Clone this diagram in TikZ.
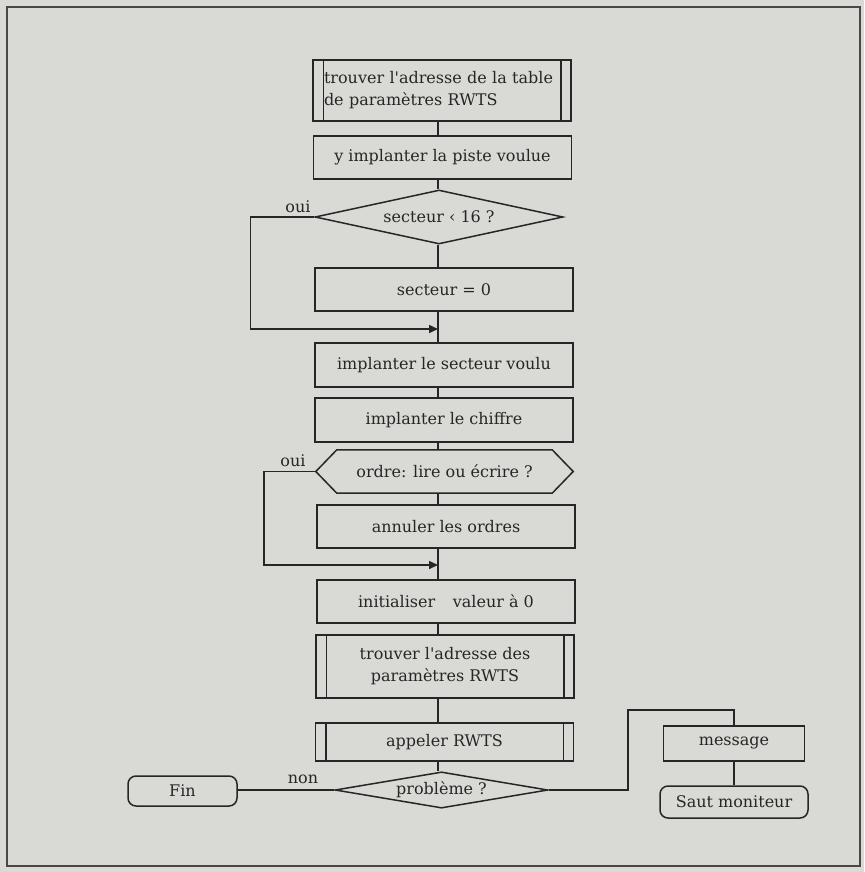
\documentclass[tikz,border=0pt]{standalone}
\usepackage{fontspec}
\setmainfont{DejaVu Serif}[Ligatures=TeXOff]
\usetikzlibrary{shapes.geometric,arrows.meta}
\definecolor{paper}{HTML}{D9D9D5}
\definecolor{ink}{HTML}{262626}
\tikzset{
  x=1pt, y=-1pt,
  every node/.style={font=\fontsize{16}{22}\selectfont, text=ink},
  line/.style={draw=ink, line width=1.5pt},
  proc/.style={line, rectangle, minimum width=258pt, inner sep=0pt},
  sub/.style={proc, append after command={
      ([xshift=11pt]\tikzlastnode.north west) edge[line] ([xshift=11pt]\tikzlastnode.south west)
      ([xshift=-11pt]\tikzlastnode.north east) edge[line] ([xshift=-11pt]\tikzlastnode.south east)}},
  dec/.style={line, diamond, inner sep=0pt, aspect=4.5},
  term/.style={line, rectangle, rounded corners=8pt, inner sep=0pt},
  lbl/.style={inner sep=0pt},
  arr/.style={line, -{Triangle[length=9pt,width=8pt]}},
}
\begin{document}
\begin{tikzpicture}
\useasboundingbox (0,0) rectangle (864,872);
\fill[paper] (0,0) rectangle (864,872);
\draw[draw=ink!85, line width=1.6pt] (7,7) rectangle (860,866);
\coordinate (spine) at (438,0);

\node[sub, minimum height=61pt, align=left, text width=236pt] (b1) at (442,90.5)
  {trouver l'adresse de la table\\de paramètres RWTS};
\node[proc, minimum height=43pt] (b2) at (442.5,157.5) {y implanter la piste voulue};
\node[dec, minimum width=248pt, minimum height=54pt] (d1) at (439,217) {secteur ‹ 16 ?};
\node[proc, minimum height=43pt] (b3) at (444,289.5) {secteur = 0};
\coordinate (m1) at (438,329);
\node[proc, minimum height=44pt] (b4) at (444,365) {implanter le secteur voulu};
\node[proc, minimum height=44pt] (b5) at (444,420) {implanter le chiffre};
\node[rectangle, minimum width=257pt, minimum height=43pt, inner sep=0pt] (hx) at (444.5,471.5) {ordre: lire ou écrire ?};
\draw[line] (hx.west) -- ([xshift=21pt]hx.north west) -- ([xshift=-21pt]hx.north east) -- (hx.east)
  -- ([xshift=-21pt]hx.south east) -- ([xshift=21pt]hx.south west) -- cycle;
\node[proc, minimum height=43pt] (b6) at (446,526.5) {annuler les ordres};
\coordinate (m2) at (438,565);
\node[proc, minimum height=43pt] (b7) at (446,601.5) {initialiser\hspace{1.1em}valeur à 0};
\node[sub, minimum height=63pt, align=center] (b8) at (445,666.5) {trouver l'adresse des\\paramètres RWTS};
\node[sub, minimum height=38pt] (b9) at (444.5,742) {appeler RWTS};
\node[dec, minimum width=213pt, minimum height=36pt] (d2) at (441.5,790) {problème ?};
\node[term, minimum width=109pt, minimum height=30pt] (fin) at (182.5,791) {Fin};
\node[proc, minimum width=141pt, minimum height=35pt] (msg) at (734,743.5) {message};
\node[term, minimum width=148pt, minimum height=32pt] (saut) at (734,802) {Saut moniteur};
\coordinate (c1) at (628,710);

% main spine
\draw[line] (b1.south -| spine) -- (b2.north -| spine);
\draw[line] (b2.south -| spine) -- (d1.north -| spine);
\draw[line] (d1.south -| spine) -- (b3.north -| spine);
\draw[line] (b3.south -| spine) -- (b4.north -| spine);
\draw[line] (b4.south -| spine) -- (b5.north -| spine);
\draw[line] (b5.south -| spine) -- (hx.north -| spine);
\draw[line] (hx.south -| spine) -- (b6.north -| spine);
\draw[line] (b6.south -| spine) -- (b7.north -| spine);
\draw[line] (b7.south -| spine) -- (b8.north -| spine);
\draw[line] (b8.south -| spine) -- (b9.north -| spine);
\draw[line] (b9.south -| spine) -- (d2.north -| spine);

% loops
\draw[arr] (d1.west) -- ++(-64,0) |- (m1);
\node[lbl] (oui1) at (298,207) {oui};
\draw[arr] (hx.west) -- ++(-52,0) |- (m2);
\node[lbl] (oui2) at (293,461) {oui};

% bottom
\draw[line] (d2.west) -- (d2.west -| fin.east);
\node[lbl] (non) at (303,779) {non};
\draw[line] (d2.east) -| (c1) -| (msg.north);
\draw[line] (msg.south) -- (saut.north);
\end{tikzpicture}
\end{document}
